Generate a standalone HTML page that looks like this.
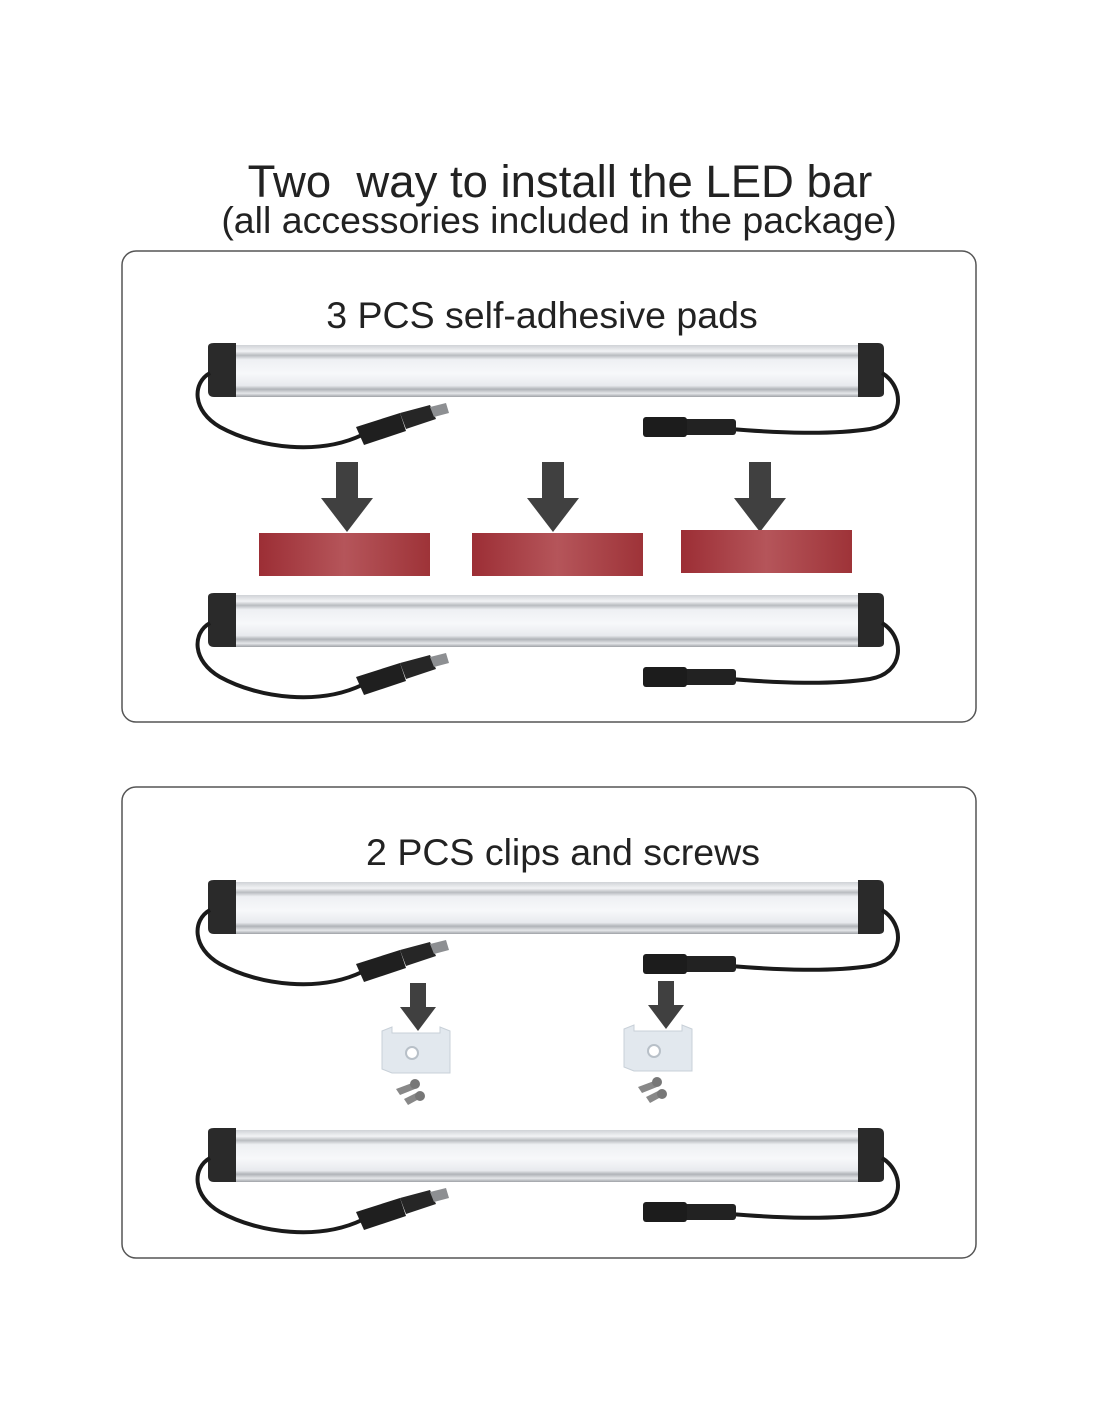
<!DOCTYPE html>
<html><head><meta charset="utf-8"><style>
html,body{margin:0;padding:0;background:#fff}
svg{display:block}
text{font-family:"Liberation Sans",sans-serif;fill:#222}
</style></head><body>
<svg width="1100" height="1422" viewBox="0 0 1100 1422" xmlns="http://www.w3.org/2000/svg">
<defs>
<linearGradient id="bg" x1="0" y1="0" x2="0" y2="1">
<stop offset="0" stop-color="#cfd2d6"/><stop offset="0.12" stop-color="#f2f3f5"/><stop offset="0.2" stop-color="#b9bcc0"/>
<stop offset="0.28" stop-color="#eef0f3"/><stop offset="0.55" stop-color="#f7f8fa"/><stop offset="0.78" stop-color="#e8eaee"/>
<stop offset="0.85" stop-color="#b0b3b8"/><stop offset="0.93" stop-color="#e4e6e9"/><stop offset="1" stop-color="#9ea1a6"/>
</linearGradient>
<linearGradient id="pad" x1="0" y1="0" x2="1" y2="0">
<stop offset="0" stop-color="#9c2e35"/><stop offset="0.5" stop-color="#b5555a"/><stop offset="1" stop-color="#9e3338"/>
</linearGradient>
<g id="bar">
<rect x="232" y="2" width="630" height="52" fill="url(#bg)"/>
<path d="M208 4 Q208 0 214 0 L236 0 L236 54 L214 54 Q208 54 208 48 Z" fill="#2a2a2a"/>
<path d="M858 0 L878 0 Q884 0 884 6 L884 50 Q884 54 878 54 L858 54 Z" fill="#2a2a2a"/>
<path d="M210 30 C192 40 192 68 220 84 C260 106 320 112 362 92" fill="none" stroke="#1a1a1a" stroke-width="4"/>
<path d="M356 84 L400 70 L406 88 L364 102 Z" fill="#1f1f1f"/>
<path d="M400 70 L430 62 L436 76 L406 86 Z" fill="#262626"/>
<path d="M430 64 L446 60 L449 70 L434 74 Z" fill="#8d8f92"/>
<path d="M882 30 C905 44 905 80 870 86 C830 92 780 90 730 86" fill="none" stroke="#1a1a1a" stroke-width="4"/>
<rect x="684" y="76" width="52" height="16" rx="3" fill="#222"/>
<rect x="643" y="74" width="44" height="20" rx="3" fill="#1c1c1c"/>
</g>
<g id="arrow"><rect x="-11" y="0" width="22" height="38" fill="#404040"/><path d="M-26 36 L26 36 L0 70 Z" fill="#404040"/></g>
<g id="sarrow"><rect x="-8" y="0" width="16" height="26" fill="#404040"/><path d="M-18 24 L18 24 L0 48 Z" fill="#404040"/></g>
<g id="clip">
<path d="M0 4 L10 0 L10 6 L58 6 L58 0 L68 4 L68 46 L10 46 L0 42 Z" fill="#e2e8ee" stroke="#c8d0d8"/>
<circle cx="30" cy="26" r="6" fill="#fff" stroke="#b8c0c8" stroke-width="2"/>
<g fill="#888"><path d="M14 62 L30 56 L33 62 L18 68 Z"/><circle cx="33" cy="57" r="5" fill="#777"/><path d="M22 72 L34 66 L37 72 L26 78 Z"/><circle cx="38" cy="69" r="5" fill="#777"/></g>
</g>
</defs>
<text x="560" y="197" font-size="45.5" text-anchor="middle" xml:space="preserve">Two  way to install the LED bar</text>
<text x="559" y="233" font-size="37.5" text-anchor="middle">(all accessories included in the package)</text>
<rect x="122" y="251" width="854" height="471" rx="14" fill="none" stroke="#555" stroke-width="1.5"/>
<rect x="122" y="787" width="854" height="471" rx="14" fill="none" stroke="#555" stroke-width="1.5"/>
<text x="542" y="328" font-size="37.5" text-anchor="middle">3 PCS self-adhesive pads</text>
<text x="563" y="865" font-size="37.5" text-anchor="middle">2 PCS clips and screws</text>
<use href="#bar" transform="translate(0,343)"/>
<use href="#bar" transform="translate(0,593)"/>
<use href="#bar" transform="translate(0,880)"/>
<use href="#bar" transform="translate(0,1128)"/>
<use href="#arrow" transform="translate(347,462)"/>
<use href="#arrow" transform="translate(553,462)"/>
<use href="#arrow" transform="translate(760,462)"/>
<rect x="259" y="533" width="171" height="43" fill="url(#pad)"/>
<rect x="472" y="533" width="171" height="43" fill="url(#pad)"/>
<rect x="681" y="530" width="171" height="43" fill="url(#pad)"/>
<use href="#sarrow" transform="translate(418,983)"/>
<use href="#sarrow" transform="translate(666,981)"/>
<use href="#clip" transform="translate(382,1027)"/>
<use href="#clip" transform="translate(624,1025)"/>
</svg>
</body></html>
